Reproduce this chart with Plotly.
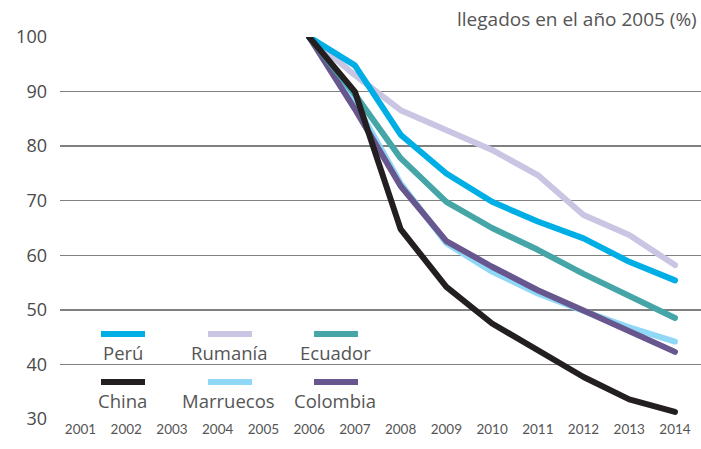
import plotly.graph_objects as go

years = [2006, 2007, 2008, 2009, 2010, 2011, 2012, 2013, 2014]
tick_years = list(range(2001, 2015))
y_ticks = [30, 40, 50, 60, 70, 80, 90, 100]

series_names = ["Rumanía", "Marruecos", "Colombia", "Ecuador", "Perú", "China"]
rumania = [100, 93.0, 86.6, 83.0, 79.3, 74.7, 67.4, 63.7, 58.2]
marruecos = [100, 88.0, 73.2, 62.2, 57.0, 53.0, 49.8, 46.8, 44.2]
colombia = [100, 86.8, 72.7, 62.6, 57.9, 53.6, 49.9, 46.1, 42.3]
ecuador = [100, 89.5, 77.8, 69.8, 65.0, 61.0, 56.6, 52.6, 48.5]
peru = [100, 94.8, 82.1, 75.0, 69.8, 66.2, 63.1, 58.8, 55.4]
china = [100, 90.0, 64.8, 54.2, 47.5, 42.7, 37.7, 33.6, 31.3]
values = [rumania, marruecos, colombia, ecuador, peru, china]
colors = {"Perú": "#00aee6", "Rumanía": "#c9c5e3", "Ecuador": "#45a5a7",
          "China": "#231f20", "Marruecos": "#8fd9f6", "Colombia": "#68568f"}
legend_rows = [["Perú", "Rumanía", "Ecuador"], ["China", "Marruecos", "Colombia"]]

W, H = 701, 449
L, R, T, B = 60, 701, 37, 419
X0_PX, STEP = 80.5, 45.73  # pixel of 2001 and per-year spacing

fig = go.Figure()
for name, vals in zip(series_names, values):
    fig.add_trace(go.Scatter(x=years, y=vals, mode="lines", name=name,
                             line=dict(color=colors[name], width=6),
                             showlegend=False, hoverinfo="skip"))

def px_x(p):
    return (p - L) / (R - L)

def px_y(p):
    return (B - p) / (B - T)

FONT = "Open Sans"
shapes = []
annotations = []
col_x = [101, 208, 314]
text_cx = [122.7, 228.7, 335]
row_line_y = [334, 382]
row_text_y = [352.5, 400.5]
for r, row in enumerate(legend_rows):
    for c, name in enumerate(row):
        shapes.append(dict(type="line", xref="paper", yref="paper",
                           x0=px_x(col_x[c]), x1=px_x(col_x[c] + 44),
                           y0=px_y(row_line_y[r]), y1=px_y(row_line_y[r]),
                           line=dict(color=colors[name], width=6)))
        annotations.append(dict(text=name, xref="paper", yref="paper",
                                x=px_x(text_cx[c]), y=px_y(row_text_y[r]),
                                xanchor="center", yanchor="middle", showarrow=False,
                                font=dict(size=18.5, color="#555555", family=FONT)))

annotations.append(dict(text="llegados en el año 2005 (%)", xref="paper", yref="paper",
                        x=px_x(699), y=px_y(19), xanchor="right", yanchor="middle",
                        showarrow=False, font=dict(size=19, color="#555555", family=FONT)))

fig.update_layout(
    width=W, height=H,
    margin=dict(l=L, r=W - R, t=T, b=H - B),
    paper_bgcolor="white", plot_bgcolor="white",
    shapes=shapes, annotations=annotations,
    font=dict(family=FONT, color="#555555"),
    xaxis=dict(range=[2001 - (X0_PX - L) / STEP, 2001 + (R - X0_PX) / STEP],
               tickvals=tick_years, ticktext=[str(y) for y in tick_years],
               showgrid=False, zeroline=False, showline=False, ticks="",
               tickfont=dict(size=13.5, color="#555555", family="Lato")),
    yaxis=dict(range=[30, 100], tickvals=y_ticks, showgrid=True, gridcolor="#808080",
               gridwidth=1.5, zeroline=False, showline=False, ticks="",
               tickfont=dict(size=18, color="#4a4a4a", family=FONT), ticklabelstandoff=12),
)

post = (
    "document.body.style.margin='0';document.body.style.overflow='hidden';"
    "document.querySelectorAll('.scatterlayer .js-line').forEach(function(p){"
    "p.style.strokeLinecap='round';p.style.strokeLinejoin='round';});"
)
fig.write_html("out.html", config={"displayModeBar": False, "staticPlot": True},
               post_script=post)
